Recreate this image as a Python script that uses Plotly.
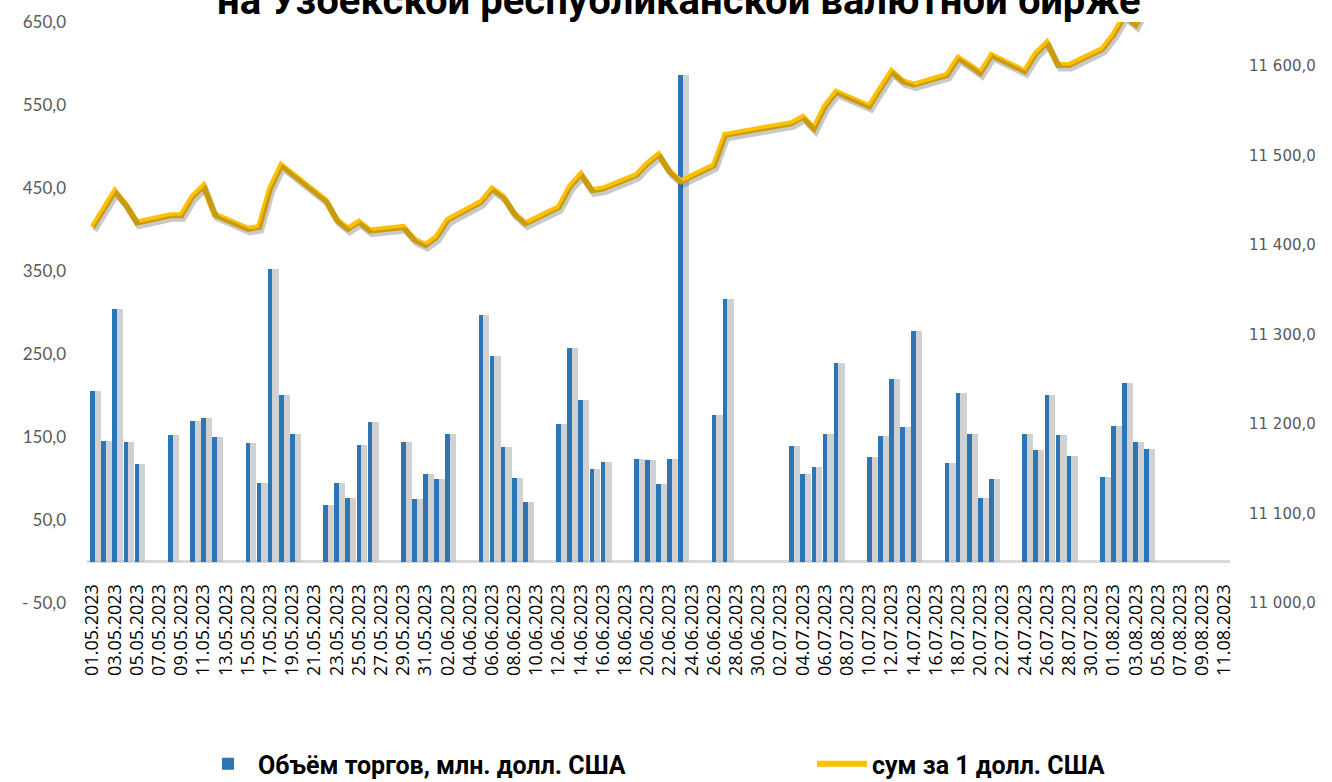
import plotly.graph_objects as go
import datetime as dt

# ---- data ----
trade_dates = [
    "2023-05-01", "2023-05-02", "2023-05-03", "2023-05-04", "2023-05-05",
    "2023-05-08", "2023-05-10", "2023-05-11", "2023-05-12",
    "2023-05-15", "2023-05-16", "2023-05-17", "2023-05-18", "2023-05-19",
    "2023-05-22", "2023-05-23", "2023-05-24", "2023-05-25", "2023-05-26",
    "2023-05-29", "2023-05-30", "2023-05-31", "2023-06-01", "2023-06-02",
    "2023-06-05", "2023-06-06", "2023-06-07", "2023-06-08", "2023-06-09",
    "2023-06-12", "2023-06-13", "2023-06-14", "2023-06-15", "2023-06-16",
    "2023-06-19", "2023-06-20", "2023-06-21", "2023-06-22", "2023-06-23",
    "2023-06-26", "2023-06-27",
    "2023-07-03", "2023-07-04", "2023-07-05", "2023-07-06", "2023-07-07",
    "2023-07-10", "2023-07-11", "2023-07-12", "2023-07-13", "2023-07-14",
    "2023-07-17", "2023-07-18", "2023-07-19", "2023-07-20", "2023-07-21",
    "2023-07-24", "2023-07-25", "2023-07-26", "2023-07-27", "2023-07-28",
    "2023-07-31", "2023-08-01", "2023-08-02", "2023-08-03", "2023-08-04",
]
volume = [
    205, 145, 304, 144, 117,
    152, 169, 173, 150,
    143, 95, 352, 201, 154,
    68, 95, 77, 140, 168,
    144, 75, 105, 99, 154,
    297, 247, 138, 101, 72,
    166, 257, 195, 111, 120,
    124, 122, 93, 124, 586,
    177, 316,
    139, 105, 114, 154, 239,
    126, 151, 220, 162, 278,
    119, 203, 154, 77, 100,
    154, 134, 201, 153, 127,
    102, 163, 215, 144, 135,
]

rate_dates = [
    "2023-05-01", "2023-05-02", "2023-05-03", "2023-05-04", "2023-05-05",
    "2023-05-08", "2023-05-09", "2023-05-10", "2023-05-11", "2023-05-12",
    "2023-05-15", "2023-05-16", "2023-05-17", "2023-05-18", "2023-05-19",
    "2023-05-22", "2023-05-23", "2023-05-24", "2023-05-25", "2023-05-26",
    "2023-05-29", "2023-05-30", "2023-05-31", "2023-06-01", "2023-06-02",
    "2023-06-05", "2023-06-06", "2023-06-07", "2023-06-08", "2023-06-09",
    "2023-06-12", "2023-06-13", "2023-06-14", "2023-06-15", "2023-06-16",
    "2023-06-19", "2023-06-20", "2023-06-21", "2023-06-22", "2023-06-23",
    "2023-06-26", "2023-06-27",
    "2023-07-03", "2023-07-04", "2023-07-05", "2023-07-06", "2023-07-07",
    "2023-07-10", "2023-07-11", "2023-07-12", "2023-07-13", "2023-07-14",
    "2023-07-17", "2023-07-18", "2023-07-19", "2023-07-20", "2023-07-21",
    "2023-07-24", "2023-07-25", "2023-07-26", "2023-07-27", "2023-07-28",
    "2023-07-31", "2023-08-01", "2023-08-02", "2023-08-03", "2023-08-04",
]
rate = [
    11420, 11439, 11460, 11445, 11425,
    11433, 11433, 11454, 11466, 11434,
    11418, 11420, 11463, 11489, 11479,
    11450, 11428, 11418, 11426, 11416,
    11420, 11406, 11400, 11409, 11428,
    11448, 11463, 11454, 11435, 11424,
    11442, 11465, 11479, 11461, 11463,
    11478, 11491, 11501, 11482, 11471,
    11489, 11523,
    11536, 11543, 11530, 11555, 11571,
    11555, 11575, 11594, 11583, 11579,
    11590, 11609, 11601, 11592, 11612,
    11594, 11614, 11626, 11601, 11601,
    11619, 11635, 11656, 11646, 11668,
]

left_ticks = [-50, 50, 150, 250, 350, 450, 550, 650]
left_ticktext = ["- 50,0", "50,0", "150,0", "250,0", "350,0", "450,0", "550,0", "650,0"]
right_ticks = [11000, 11100, 11200, 11300, 11400, 11500, 11600]
right_ticktext = ["11 000,0", "11 100,0", "11 200,0", "11 300,0", "11 400,0", "11 500,0", "11 600,0"]

title_text = "на Узбекской республиканской валютной бирже"
bar_name = "Объём торгов, млн. долл. США"
line_name = "сум за 1 долл. США"

# ---- figure ----
DAY = 86400000
W, H = 1332, 782
ML, MR, MT, MB = 87, 102, 22, 179
plot_w = W - ML - MR
plot_h = H - MT - MB

fig = go.Figure()

# bar shadow (Excel soft shadow effect)
fig.add_trace(go.Bar(
    x=trade_dates, y=volume, width=0.95 * DAY, offset=-0.18 * DAY,
    marker=dict(color="rgba(190,190,190,0.7)", line=dict(width=0)),
    showlegend=False, hoverinfo="skip",
))
fig.add_trace(go.Bar(
    x=trade_dates, y=volume, width=0.42 * DAY, name=bar_name,
    marker=dict(color="#2E75B6", line=dict(width=0)),
    legend="legend",
))
# line shadow
fig.add_trace(go.Scatter(
    x=rate_dates, y=rate, mode="lines", yaxis="y3", xaxis="x2",
    line=dict(color="rgba(60,60,60,0.28)", width=6),
    showlegend=False, hoverinfo="skip",
))
fig.add_trace(go.Scatter(
    x=rate_dates, y=rate, mode="lines", yaxis="y2", name=line_name,
    line=dict(color="#FFC000", width=6),
    legend="legend2",
))

x0 = dt.datetime(2023, 4, 30, 12)
x1 = dt.datetime(2023, 8, 11, 12)
shift = dt.timedelta(days=2.0 / plot_w * 103)  # ~2px
y2_range = [11000, 11649]
d3 = 3.5 / plot_h * (y2_range[1] - y2_range[0])

legend_font = dict(family="Roboto", size=25, color="#000000", weight="bold")
legend_y = 1 - (764 - MT) / plot_h

fig.update_layout(
    width=W, height=H,
    margin=dict(l=ML, r=MR, t=MT, b=MB, autoexpand=False),
    paper_bgcolor="white", plot_bgcolor="white",
    barmode="overlay", bargap=0,
    xaxis=dict(
        type="date", range=[x0.isoformat(), x1.isoformat()],
        tickmode="linear", tick0="2023-05-01", dtick=2 * DAY,
        tickformat="%d.%m.%Y", tickangle=-90,
        tickfont=dict(family="Open Sans", size=18, color="#000000"),
        showgrid=False, showline=False, ticks="", zeroline=False,
        anchor="free", position=50 / 700, ticklabelstandoff=18,
        automargin=False,
    ),
    xaxis2=dict(
        type="date", overlaying="x", visible=False,
        range=[(x0 - shift).isoformat(), (x1 - shift).isoformat()],
    ),
    yaxis=dict(
        range=[-50, 650], tickvals=left_ticks, ticktext=left_ticktext,
        tickfont=dict(family="Lato", size=17, color="#595959"),
        showgrid=False, showline=False, ticks="",
        zeroline=True, zerolinecolor="#D9D9D9", zerolinewidth=3,
        ticklabelstandoff=20, automargin=False,
    ),
    yaxis2=dict(
        range=y2_range, overlaying="y", side="right",
        tickvals=right_ticks, ticktext=right_ticktext,
        tickfont=dict(family="DejaVu Sans", size=15, color="#595959"),
        showgrid=False, showline=False, ticks="", zeroline=False,
        ticklabelstandoff=18, automargin=False,
    ),
    yaxis3=dict(
        range=[y2_range[0] + d3, y2_range[1] + d3], overlaying="y",
        side="right", visible=False,
    ),
    legend=dict(
        orientation="h", x=(198 - ML) / plot_w, y=legend_y,
        xanchor="left", yanchor="middle",
        font=legend_font, itemwidth=50,
    ),
    legend2=dict(
        orientation="h", x=(812 - ML) / plot_w, y=legend_y,
        xanchor="left", yanchor="middle",
        font=legend_font, itemwidth=50,
    ),
    annotations=[dict(
        text=title_text, xref="paper", yref="paper",
        x=(679 - ML) / plot_w, y=1 - 4 / plot_h,
        xanchor="center", yanchor="bottom", showarrow=False,
        font=dict(family="Roboto", size=40, color="#000000", weight="bold"),
    )],
)

fig.write_html(
    "out.html",
    config={"displayModeBar": False},
    post_script="document.body.style.margin='0';",
)
